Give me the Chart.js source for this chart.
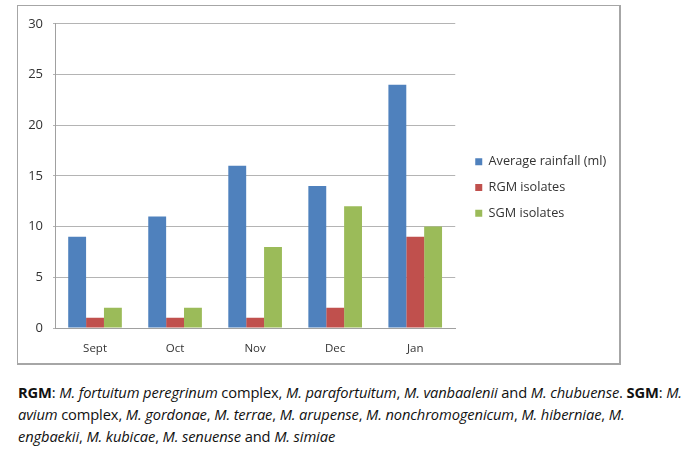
<!DOCTYPE html>
<html>
<head>
<meta charset="utf-8">
<script src="https://cdn.jsdelivr.net/npm/chart.js@4.4.1/dist/chart.umd.min.js"></script>
<style>
  body { margin: 0; background: #fff; width: 685px; height: 456px; overflow: hidden; position: relative; }
  #box { position: absolute; left: 17px; top: 5px; width: 601px; height: 357px; border: 2px solid #a6a6a6; border-top-width: 1px; border-left-width: 1px; }
  #box canvas { display: block; }
  #caption { position: absolute; left: 18px; top: 381px; width: 680px; font-family: "Open Sans", sans-serif; font-size: 14.7px; line-height: 22px; color: #111; white-space: nowrap; letter-spacing: -0.12px; }
</style>
</head>
<body>
<div id="box"><canvas id="chart" width="601" height="357"></canvas></div>
<div id="caption">
<b>RGM</b>: <i>M. fortuitum peregrinum</i> complex, <i>M. parafortuitum</i>, <i>M. vanbaalenii</i> and <i>M. chubuense</i>. <b>SGM</b>: <i>M.</i><br>
<i>avium</i> complex, <i>M. gordonae</i>, <i>M. terrae</i>, <i>M. arupense</i>, <i>M. nonchromogenicum</i>, <i>M. hiberniae</i>, <i>M.</i><br>
<i>engbaekii</i>, <i>M. kubicae</i>, <i>M. senuense</i> and <i>M. simiae</i>
</div>
<script>
const months = ['Sept', 'Oct', 'Nov', 'Dec', 'Jan'];
const rainfall = [9, 11, 16, 14, 24];
const rgmIsolates = [1, 1, 1, 2, 9];
const sgmIsolates = [2, 2, 8, 12, 10];
const seriesNames = ['Average rainfall (ml)', 'RGM isolates', 'SGM isolates'];

const font = '"Open Sans", sans-serif';

// widen the gap between plot and legend a bit
const legendGap = {
  id: 'legendGap',
  beforeLayout(chart) {
    const lg = chart.legend;
    if (lg && !lg._gapPatched) {
      const fit = lg.fit.bind(lg);
      lg.fit = function () { fit(); this.width += 9; };
      lg._gapPatched = true;
    }
  },
  afterLayout(chart) {
    const lg = chart.legend;
    if (lg) { lg.left += 7; lg.right += 7; }
  }
};

new Chart(document.getElementById('chart'), {
  type: 'bar',
  data: {
    labels: months,
    datasets: [
      { label: seriesNames[0], data: rainfall, backgroundColor: '#4f81bd' },
      { label: seriesNames[1], data: rgmIsolates, backgroundColor: '#c0504d' },
      { label: seriesNames[2], data: sgmIsolates, backgroundColor: '#9bbb59' }
    ]
  },
  options: {
    responsive: false,
    animation: false,
    datasets: { bar: { categoryPercentage: 0.67, barPercentage: 1.0 } },
    layout: { padding: { left: 0, right: 6, top: 10, bottom: 4 } },
    plugins: {
      tooltip: { enabled: false },
      legend: {
        position: 'right',
        labels: {
          boxWidth: 7, boxHeight: 7, padding: 13,
          color: '#333',
          font: { family: font, size: 12.7 }
        }
      }
    },
    scales: {
      x: {
        grid: { display: false },
        border: { color: '#a0a0a0' },
        ticks: { color: '#333', font: { family: font, size: 11.5 }, padding: 6 },
        afterFit: s => { s.height = 31; }
      },
      y: {
        min: 0, max: 30,
        ticks: { stepSize: 5, color: '#333', font: { family: font, size: 13 }, padding: 10 },
        grid: { color: '#b4b4b4', tickLength: 2 },
        border: { color: '#a0a0a0' },
        afterFit: s => { s.width = 37; }
      }
    }
  },
  plugins: [legendGap]
});
</script>
</body>
</html>
